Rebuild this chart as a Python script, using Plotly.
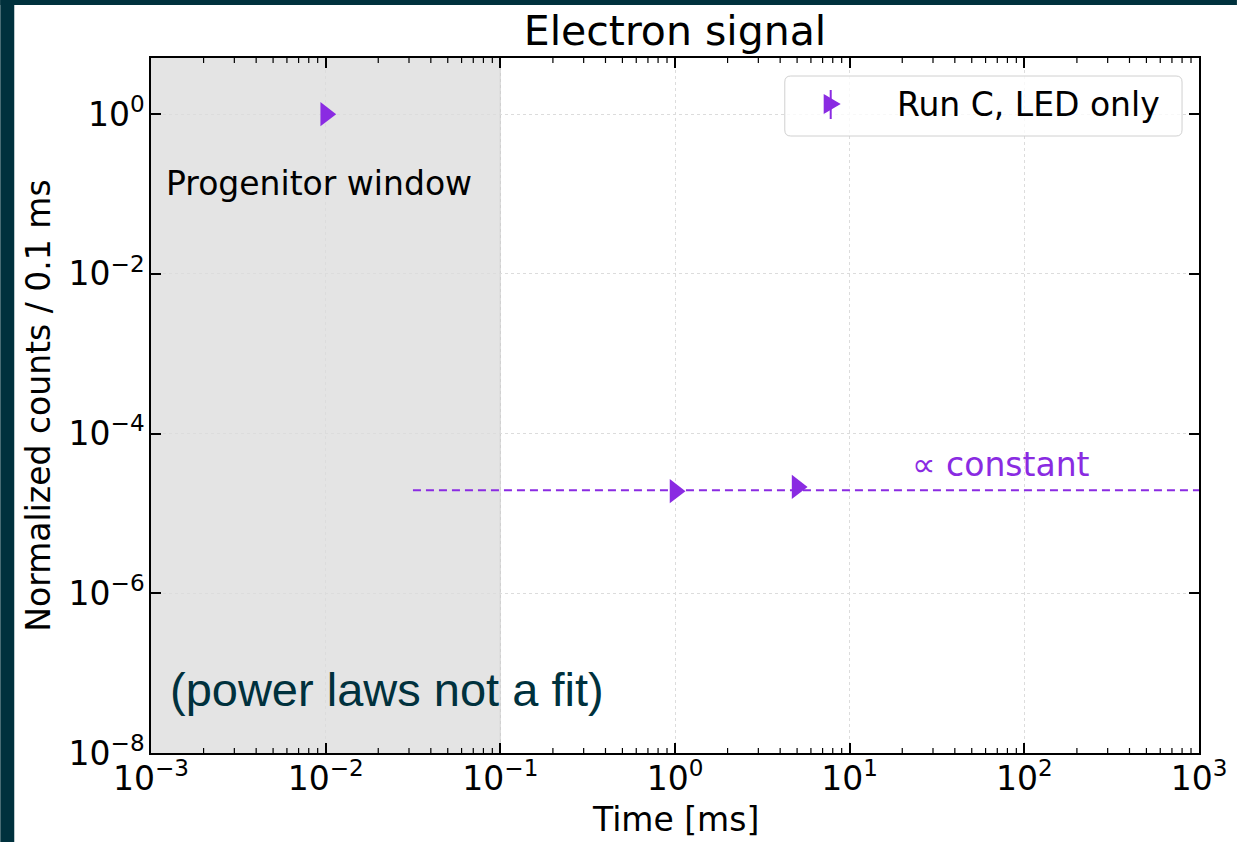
import plotly.graph_objects as go

# ---------------- data ----------------
title_text = "Electron signal"
x_label = "Time [ms]"
y_label = "Normalized counts / 0.1 ms"
series_name = "Run C, LED only"

time_ms = [0.01, 1.0, 5.0]
counts = [1.0, 1.9e-5, 2.15e-5]

const_x = [0.0316, 1000.0]
const_y = [1.95e-5, 1.95e-5]
const_label = "∝ constant"

window_ms = [1e-3, 1e-1]
window_label = "Progenitor window"
note_text = "(power laws not a fit)"

x_major = [1e-3, 1e-2, 1e-1, 1, 10, 100, 1000]
x_major_text = ["10<sup>−3</sup>", "10<sup>−2</sup>", "10<sup>−1</sup>", "10<sup>0</sup>",
                "10<sup>1</sup>", "10<sup>2</sup>", "10<sup>3</sup>"]
y_major = [1e-8, 1e-6, 1e-4, 1e-2, 1]
y_major_text = ["10<sup>−8</sup>", "10<sup>−6</sup>", "10<sup>−4</sup>", "10<sup>−2</sup>", "10<sup>0</sup>"]
x_minor = [k * 10.0 ** n for n in range(-3, 3) for k in range(2, 10)]

# ---------------- style / layout constants ----------------
W, H = 1239, 842
L, R, T, B = 151, 1201, 58, 753       # plot area in pixels
PURPLE = "#8a2be2"
DARK = "#00313d"
FONT = "DejaVu Sans"
FS = 33
TFS = 33


def pxx(px):  # pixel -> paper x
    return (px - L) / (R - L)


def pxy(py):  # pixel -> paper y
    return (B - py) / (B - T)


fig = go.Figure()

# main data
fig.add_trace(go.Scatter(
    x=time_ms, y=counts, mode="markers", name=series_name,
    marker=dict(symbol="triangle-right", size=21, color=PURPLE, line=dict(width=0)),
    showlegend=False))

# constant guide line
fig.add_trace(go.Scatter(
    x=const_x, y=const_y, mode="lines",
    line=dict(color=PURPLE, width=2, dash="8px,5px"),
    showlegend=False, hoverinfo="skip"))

axis_common = dict(
    showline=True, linecolor="black", linewidth=1.5, mirror="allticks",
    ticks="inside", ticklen=10, tickwidth=1.5, tickcolor="black",
    showgrid=True, gridcolor="#dcdcdc", gridwidth=1, griddash="dot",
    zeroline=False, tickfont=dict(family=FONT, size=TFS, color="black"),
    tickmode="array",
)

fig.update_layout(
    width=W, height=H, autosize=False,
    margin=dict(l=L, r=W - R, t=T, b=H - B, pad=0),
    paper_bgcolor="white", plot_bgcolor="white",
    font=dict(family=FONT, size=FS, color="black"),
    title=dict(text=title_text, x=0.5, xref="paper", xanchor="center",
               y=1 - 31 / H, yref="container", yanchor="middle",
               font=dict(family=FONT, size=41, color="black")),
    xaxis=dict(type="log", range=[-3, 3], tickvals=x_major, ticktext=x_major_text,
               ticklabelstandoff=-4, **axis_common),
    yaxis=dict(type="log", range=[-8, 0.704], tickvals=y_major, ticktext=y_major_text,
               ticklabelstandoff=-2, **axis_common),
    showlegend=False,
)

shapes = []
# dark slide border strips
shapes.append(dict(type="rect", xref="paper", yref="paper",
                   x0=pxx(0), x1=pxx(14), y0=pxy(H), y1=pxy(0),
                   fillcolor=DARK, line=dict(width=0), layer="below"))
shapes.append(dict(type="rect", xref="paper", yref="paper",
                   x0=pxx(0), x1=pxx(W), y0=pxy(5), y1=pxy(0),
                   fillcolor=DARK, line=dict(width=0), layer="below"))
# progenitor window shading
shapes.append(dict(type="rect", xref="x", yref="paper",
                   x0=window_ms[0], x1=window_ms[1], y0=0, y1=1,
                   fillcolor="#e4e4e4", line=dict(width=0), layer="below"))
shapes.append(dict(type="line", xref="x", yref="paper",
                   x0=window_ms[1], x1=window_ms[1], y0=0, y1=1,
                   line=dict(color="#c8c8c8", width=1), layer="below"))
# minor x ticks (bottom and top, inside)
mlen = 5 / (B - T)
for v in x_minor:
    shapes.append(dict(type="line", xref="x", yref="paper", x0=v, x1=v, y0=0, y1=mlen,
                       line=dict(color="black", width=1.2), layer="above"))
    shapes.append(dict(type="line", xref="x", yref="paper", x0=v, x1=v, y0=1 - mlen, y1=1,
                       line=dict(color="black", width=1.2), layer="above"))
# legend frame (rounded), pixel coordinates converted to paper
x0, x1, y0, y1, r = pxx(786), pxx(1184), pxy(76), pxy(136), 6
rx, ry = r / (R - L), r / (B - T)
path = (f"M {x0+rx},{y0} L {x1-rx},{y0} Q {x1},{y0} {x1},{y0-ry} "
        f"L {x1},{y1+ry} Q {x1},{y1} {x1-rx},{y1} L {x0+rx},{y1} "
        f"Q {x0},{y1} {x0},{y1+ry} L {x0},{y0-ry} Q {x0},{y0} {x0+rx},{y0} Z")
shapes.append(dict(type="path", xref="paper", yref="paper", path=path,
                   fillcolor="rgba(255,255,255,0.8)",
                   line=dict(color="#d0d0d0", width=1), layer="above"))
# legend glyph: triangle marker with vertical error bar
gx, gy, gs = 833, 104, 10
tri = (f"M {pxx(gx - gs*0.8)},{pxy(gy - gs)} L {pxx(gx + gs*0.9)},{pxy(gy)} "
       f"L {pxx(gx - gs*0.8)},{pxy(gy + gs)} Z")
shapes.append(dict(type="path", xref="paper", yref="paper", path=tri,
                   fillcolor=PURPLE, line=dict(width=0), layer="above"))
shapes.append(dict(type="line", xref="paper", yref="paper",
                   x0=pxx(gx - 1), x1=pxx(gx - 1), y0=pxy(gy - 14), y1=pxy(gy + 15),
                   line=dict(color=PURPLE, width=2), layer="above"))
fig.update_layout(shapes=shapes)

annotations = [
    dict(text=series_name, xref="paper", yref="paper", x=pxx(896), y=pxy(104),
         xanchor="left", yanchor="middle", showarrow=False,
         font=dict(family=FONT, size=FS, color="black")),
    dict(text=window_label, xref="paper", yref="paper", x=pxx(164), y=pxy(183),
         xanchor="left", yanchor="middle", showarrow=False,
         font=dict(family=FONT, size=FS, color="black")),
    dict(text=const_label, xref="paper", yref="paper", x=pxx(911), y=pxy(464),
         xanchor="left", yanchor="middle", showarrow=False,
         font=dict(family=FONT, size=FS, color=PURPLE)),
    dict(text=note_text, xref="paper", yref="paper", x=pxx(168), y=pxy(689),
         xanchor="left", yanchor="middle", showarrow=False,
         font=dict(family="Liberation Sans", size=47, color=DARK)),
    # axis titles
    dict(text=x_label, xref="paper", yref="paper", x=0.5, y=pxy(819),
         xanchor="center", yanchor="middle", showarrow=False,
         font=dict(family=FONT, size=FS, color="black")),
    dict(text=y_label, xref="paper", yref="paper", x=pxx(38), y=0.5,
         xanchor="center", yanchor="middle", showarrow=False, textangle=-90,
         font=dict(family=FONT, size=FS, color="black")),
]
fig.update_layout(annotations=annotations)

fig.write_html("out.html")
